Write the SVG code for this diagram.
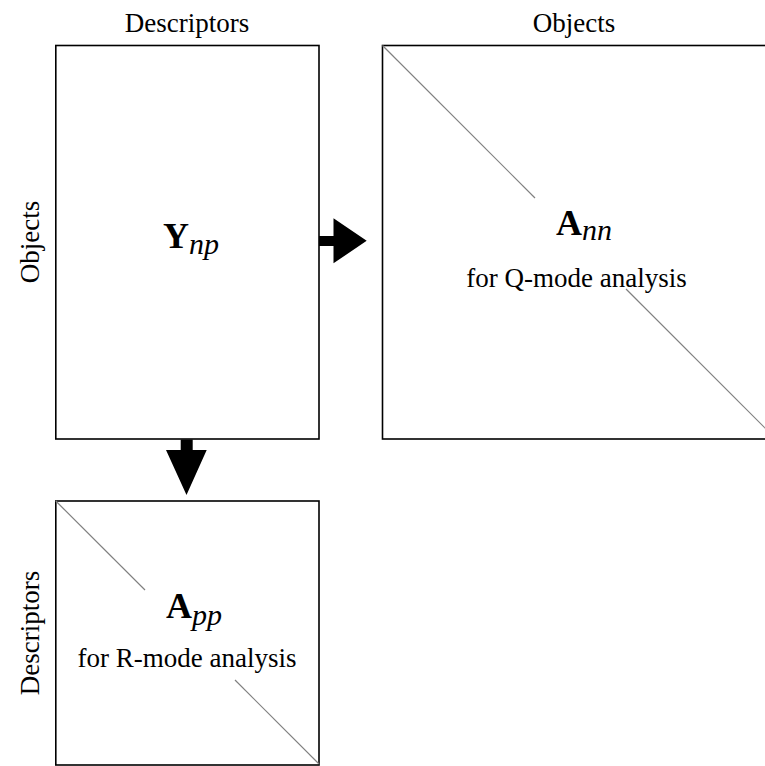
<svg xmlns="http://www.w3.org/2000/svg" width="765" height="766" viewBox="0 0 765 766">
<style>
.box{fill:none;stroke:#000;stroke-width:1.6}
.diag{stroke:#808080;stroke-width:1.2;fill:none}
text{font-family:'Liberation Serif','Tinos','DejaVu Serif',serif;fill:#000}
.lbl{font-size:27px}
.big{font-size:36px;font-weight:bold}
.sub{font-size:30px;font-style:italic;font-weight:normal}
.arr{fill:#000}
</style>
<text class="lbl" x="187" y="32" text-anchor="middle">Descriptors</text>
<text class="lbl" x="574" y="32" text-anchor="middle">Objects</text>
<text class="lbl" transform="translate(39,242) rotate(-90)" text-anchor="middle">Objects</text>
<text class="lbl" transform="translate(39,633) rotate(-90)" text-anchor="middle">Descriptors</text>
<g id="Ynp">
<rect class="box" x="55.8" y="45.5" width="263.2" height="393.5"/>
<text class="big" x="163" y="248">Y<tspan class="sub" dy="6">np</tspan></text>
</g>
<g id="Ann">
<rect class="box" x="382.5" y="45.5" width="393.5" height="393.5"/>
<line class="diag" x1="382.5" y1="45.5" x2="535" y2="198"/>
<line class="diag" x1="626" y1="289" x2="776" y2="439"/>
<text class="big" x="556" y="235">A<tspan class="sub" dy="5">nn</tspan></text>
<text class="lbl" x="576.5" y="287" text-anchor="middle">for Q-mode analysis</text>
</g>
<g id="App">
<rect class="box" x="55.8" y="501" width="263.2" height="264"/>
<line class="diag" x1="55.8" y1="501" x2="145" y2="590"/>
<line class="diag" x1="235" y1="680" x2="319" y2="764"/>
<text class="big" x="166" y="618">A<tspan class="sub" dy="7">pp</tspan></text>
<text class="lbl" x="187" y="667" text-anchor="middle">for R-mode analysis</text>
</g>
<g id="connectors">
<path class="arr" d="M319,236 H333.5 V218.3 L366.7,240.8 L333.5,263.3 V246 H319 Z"/>
<path class="arr" d="M180.7,439.5 V450 H166 L186.5,495 L206.7,450 H192.7 V439.5 Z"/>
</g>
</svg>
